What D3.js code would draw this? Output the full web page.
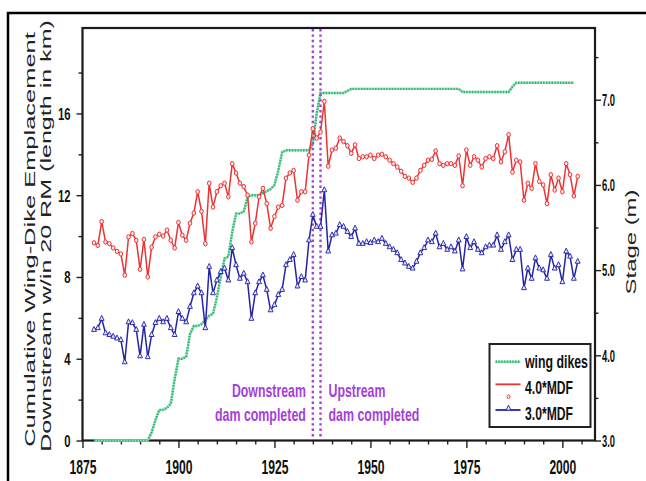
<!DOCTYPE html>
<html>
<head>
<meta charset="utf-8">
<script src="https://cdn.jsdelivr.net/npm/d3@7"></script>
<style>
  html, body { margin: 0; padding: 0; background: #fff; }
  svg { display: block; }
</style>
</head>
<body>
<script>
// ---- data -------------------------------------------------------------
const startYear = 1878;

// Stage (m) reached by a flow of 4.0 x mean daily flow, one value per year from 1878
const stage4MDF = [
  5.32, 5.29, 5.57, 5.33, 5.31, 5.26, 5.22, 5.19, 4.94, 5.39,
  5.43, 5.35, 5.01, 5.36, 4.92, 5.27, 5.39, 5.42, 5.40, 5.47,
  5.35, 5.26, 5.56, 5.41, 5.35, 5.55, 5.67, 5.92, 5.69, 5.31,
  6.02, 5.74, 5.92, 5.99, 6.02, 5.86, 6.25, 6.14, 6.02, 5.98,
  5.88, 5.33, 5.55, 5.86, 5.96, 5.78, 5.49, 5.63, 5.74, 5.76,
  6.08, 6.14, 6.17, 5.82, 5.92, 5.92, 6.35, 6.66, 6.55, 6.62,
  6.98, 6.22, 6.41, 6.43, 6.55, 6.51, 6.46, 6.37, 6.47, 6.31,
  6.33, 6.33, 6.35, 6.31, 6.35, 6.36, 6.33, 6.29, 6.25, 6.21,
  6.16, 6.10, 6.08, 6.03, 6.08, 6.17, 6.23, 6.29, 6.30, 6.40,
  6.25, 6.23, 6.25, 6.25, 6.23, 6.34, 5.99, 6.41, 6.23, 6.33,
  6.29, 6.21, 6.31, 6.33, 6.31, 6.46, 6.27, 6.39, 6.59, 6.15,
  6.29, 6.27, 5.82, 6.02, 5.96, 6.25, 6.04, 6.00, 5.78, 6.12,
  5.94, 6.08, 5.92, 6.25, 6.12, 5.87, 6.10
];

// Stage (m) reached by a flow of 3.0 x mean daily flow, one value per year from 1878
const stage3MDF = [
  4.30, 4.32, 4.43, 4.26, 4.24, 4.22, 4.20, 4.18, 3.92, 4.39,
  4.38, 4.30, 3.99, 4.36, 3.98, 4.24, 4.38, 4.43, 4.39, 4.43,
  4.32, 4.24, 4.51, 4.43, 4.39, 4.57, 4.73, 4.81, 4.73, 4.32,
  5.04, 4.73, 4.88, 4.98, 5.02, 4.88, 5.26, 5.06, 4.90, 4.96,
  4.86, 4.43, 4.73, 4.86, 4.94, 4.77, 4.53, 4.59, 4.71, 4.77,
  5.06, 5.12, 5.18, 4.81, 4.92, 4.88, 5.35, 5.65, 5.51, 5.51,
  5.94, 5.22, 5.41, 5.43, 5.53, 5.51, 5.45, 5.39, 5.49, 5.31,
  5.31, 5.33, 5.32, 5.35, 5.33, 5.37, 5.31, 5.27, 5.24, 5.20,
  5.12, 5.08, 5.04, 5.02, 5.10, 5.20, 5.26, 5.35, 5.33, 5.43,
  5.27, 5.31, 5.24, 5.27, 5.22, 5.35, 5.01, 5.39, 5.26, 5.33,
  5.24, 5.20, 5.27, 5.29, 5.29, 5.41, 5.24, 5.33, 5.41, 5.12,
  5.24, 5.24, 4.79, 5.02, 4.90, 5.14, 5.02, 5.00, 4.90, 5.18,
  5.02, 5.06, 4.86, 5.22, 5.16, 4.90, 5.10
];

// Cumulative wing-dike length (km) within 20 river miles downstream, per year from 1878
const wingDikeKm = [
  0, 0, 0, 0, 0, 0, 0, 0, 0, 0, 0, 0, 0, 0, 0,
  0.4, 1.0, 1.5, 1.5, 1.6, 1.8, 3.0, 4.0, 4.0, 4.1,
  5.2, 5.6, 5.6, 5.7, 5.9, 6.1, 6.2, 7.0, 8.0, 8.9,
  9.0, 10.2, 11.1, 11.1, 11.2, 11.9, 12.0, 12.0, 12.0, 12.1,
  12.2, 12.3, 12.5, 13.2, 14.1, 14.2, 14.2, 14.2, 14.2, 14.2,
  14.2, 14.2, 14.5, 16.0, 17.0, 17.0, 17.0, 17.0, 17.0, 17.0,
  17.0, 17.1,
  17.2, 17.2, 17.2, 17.2, 17.2, 17.2, 17.2, 17.2, 17.2, 17.2,
  17.2, 17.2, 17.2, 17.2, 17.2, 17.2, 17.2, 17.2, 17.2, 17.2,
  17.2, 17.2, 17.2, 17.2, 17.2, 17.2, 17.2, 17.2, 17.2,
  17.05, 17.05, 17.05, 17.05, 17.05, 17.05, 17.05, 17.05, 17.05, 17.05,
  17.05, 17.05, 17.05,
  17.3,
  17.5, 17.5, 17.5, 17.5, 17.5, 17.5, 17.5, 17.5, 17.5, 17.5,
  17.5, 17.5, 17.5, 17.5, 17.5, 17.5
];

const damYears = [1935, 1937];
const damLabelsLeft = ["Downstream", "dam completed"];
const damLabelsRight = ["Upstream", "dam completed"];

const yearTicks = [1875, 1900, 1925, 1950, 1975, 2000];
const kmTicks = [0, 4, 8, 12, 16];
const stageTicks = [3.0, 4.0, 5.0, 6.0, 7.0];
const legendLabels = ["wing dikes", "4.0*MDF", "3.0*MDF"];

// ---- layout -----------------------------------------------------------
const W = 646, H = 481;
const plot = { left: 82.5, right: 595, top: 28, bottom: 440.5 };
const squeeze = 0.58;              // narrow lettering of the rotated titles
const FONT = "'Liberation Sans', Arial, Helvetica, sans-serif";
const RED = "#ee3232", BLUE = "#2323a6", GREEN = "#34b874", PURPLE = "#a53fd8";

const svg = d3.select("body").append("svg")
  .attr("width", W).attr("height", H)
  .attr("font-family", FONT);

svg.append("rect").attr("width", W).attr("height", H).attr("fill", "#fff");

// outer frame (runs off the right and bottom edges)
svg.append("rect")
  .attr("x", 8).attr("y", 13).attr("width", 700).attr("height", 600)
  .attr("fill", "none").attr("stroke", "#000").attr("stroke-width", 2.5);

// condensed lettering: natural glyphs squeezed horizontally to a target width
function condense(sel, px, py, width) {
  sel.attr("x", 0).attr("y", 0).attr("dy", null);
  const natural = sel.node().getComputedTextLength();
  sel.attr("transform", `translate(${px},${py}) scale(${width / natural},1)`);
}

// ---- scales -----------------------------------------------------------
const x = d3.scaleLinear().domain([1875, 2008.5]).range([plot.left, plot.right]);
const yKm = d3.scaleLinear().domain([0, 20.18]).range([plot.bottom, plot.top]);
const yStage = d3.scaleLinear().domain([3, 7.842]).range([plot.bottom, plot.top]);

const stageYears = d3.range(startYear, startYear + stage4MDF.length);
const wingYears = d3.range(startYear, startYear + wingDikeKm.length);

// ---- axes -------------------------------------------------------------
function styleAxis(g) {
  g.select(".domain").remove();
  g.selectAll(".tick line").attr("stroke", "#222").attr("stroke-width", 1.4);
}

// bottom
svg.append("g")
  .attr("transform", `translate(0,${plot.bottom})`)
  .call(d3.axisBottom(x).tickValues(d3.range(1880, 2010, 5).filter(d => d % 25 !== 0))
    .tickSize(4).tickFormat(""))
  .call(styleAxis);
const xAxis = svg.append("g")
  .attr("transform", `translate(0,${plot.bottom})`)
  .call(d3.axisBottom(x).tickValues(yearTicks).tickSize(7.5).tickFormat(d3.format("d")))
  .call(styleAxis);
xAxis.selectAll(".tick text")
  .attr("font-size", 20).attr("font-weight", "bold").attr("fill", "#111")
  .attr("font-family", FONT).attr("text-anchor", "middle")
  .each(function () { condense(d3.select(this), 0, 33.5, 27); });

// left
svg.append("g")
  .attr("transform", `translate(${plot.left},0)`)
  .call(d3.axisLeft(yKm).tickValues([2, 6, 10, 14, 18]).tickSize(4).tickFormat(""))
  .call(styleAxis);
const yAxisL = svg.append("g")
  .attr("transform", `translate(${plot.left},0)`)
  .call(d3.axisLeft(yKm).tickValues(kmTicks).tickSize(6).tickFormat(d3.format("d")))
  .call(styleAxis);
yAxisL.selectAll(".tick text")
  .attr("font-size", 16).attr("font-weight", "bold").attr("fill", "#111")
  .attr("font-family", FONT).attr("text-anchor", "end")
  .each(function (d) { condense(d3.select(this), -12, 5.8, String(d).length * 6.3); });

// right
svg.append("g")
  .attr("transform", `translate(${plot.right},0)`)
  .call(d3.axisRight(yStage).tickValues([3.5, 4.5, 5.5, 6.5, 7.5]).tickSize(3.5).tickFormat(""))
  .call(styleAxis);
const yAxisR = svg.append("g")
  .attr("transform", `translate(${plot.right},0)`)
  .call(d3.axisRight(yStage).tickValues(stageTicks).tickSize(6).tickFormat(d3.format(".1f")))
  .call(styleAxis);
yAxisR.selectAll(".tick text")
  .attr("font-size", 16).attr("font-weight", "bold").attr("fill", "#111")
  .attr("font-family", FONT).attr("text-anchor", "start")
  .each(function () { condense(d3.select(this), 7, 5.8, 13); });

// ---- axis titles ------------------------------------------------------
function rotatedTitle(cx, cy, text, size, len) {
  const t = svg.append("text")
    .attr("text-anchor", "middle").attr("dominant-baseline", "central")
    .attr("font-size", size).attr("fill", "#222")
    .text(text);
  const natural = t.node().getComputedTextLength();
  t.attr("transform",
    `translate(${cx},${cy}) scale(${squeeze},1) rotate(-90) scale(${len / natural},1)`);
}
rotatedTitle(29.5, 239.5, "Cumulative Wing-Dike Emplacement", 25, 415);
rotatedTitle(45.5, 236, "Downstream w/in 20 RM (length in km)", 25, 432);
rotatedTitle(631, 242, "Stage (m)", 24, 105);

// ---- plot frame -------------------------------------------------------
svg.append("rect")
  .attr("x", plot.left).attr("y", plot.top)
  .attr("width", plot.right - plot.left).attr("height", plot.bottom - plot.top)
  .attr("fill", "none").attr("stroke", "#1a1a1a").attr("stroke-width", 2.2);

// ---- wing dikes -------------------------------------------------------
const wingLine = d3.line().x((d, i) => x(wingYears[i])).y(d => yKm(d));
svg.append("path").datum(wingDikeKm)
  .attr("d", wingLine).attr("fill", "none")
  .attr("stroke", "#9ee2bd").attr("stroke-width", 2.4);
svg.append("path").datum(wingDikeKm)
  .attr("d", wingLine).attr("fill", "none")
  .attr("stroke", GREEN).attr("stroke-width", 2.4)
  .attr("stroke-dasharray", "1.5,1.3");

// ---- dam completion markers ------------------------------------------
svg.selectAll(".dam").data(damYears).enter().append("line")
  .attr("x1", d => x(d)).attr("x2", d => x(d))
  .attr("y1", plot.top + 1).attr("y2", plot.bottom - 1)
  .attr("stroke", PURPLE).attr("stroke-width", 2.4)
  .attr("stroke-dasharray", "2.4,3");

// ---- stage series -----------------------------------------------------
const stageLine = d3.line().x((d, i) => x(stageYears[i])).y(d => yStage(d));

svg.append("path").datum(stage4MDF)
  .attr("d", stageLine).attr("fill", "none")
  .attr("stroke", RED).attr("stroke-width", 1.5);
svg.append("g").selectAll("ellipse").data(stage4MDF).enter().append("ellipse")
  .attr("cx", (d, i) => x(stageYears[i])).attr("cy", d => yStage(d))
  .attr("rx", 1.8).attr("ry", 2.2)
  .attr("fill", "#fde6e6").attr("stroke", RED).attr("stroke-width", 1);

svg.append("path").datum(stage3MDF)
  .attr("d", stageLine).attr("fill", "none")
  .attr("stroke", BLUE).attr("stroke-width", 1.5);
const tri = d3.symbol().type(d3.symbolTriangle).size(14);
svg.append("g").selectAll("path").data(stage3MDF).enter().append("path")
  .attr("d", tri)
  .attr("transform", (d, i) => `translate(${x(stageYears[i])},${yStage(d)}) scale(0.85,1)`)
  .attr("fill", "#e8e8ff").attr("stroke", BLUE).attr("stroke-width", 1);

// ---- dam labels -------------------------------------------------------
function damText(tx, ty, anchor, text, len) {
  const t = svg.append("text")
    .attr("text-anchor", anchor)
    .attr("font-size", 18).attr("font-weight", "bold").attr("fill", PURPLE)
    .text(text);
  condense(t, tx, ty, len);
}
damText(x(damYears[0]) - 7, 397, "end", damLabelsLeft[0], 74);
damText(x(damYears[0]) - 7, 421, "end", damLabelsLeft[1], 91);
damText(x(damYears[1]) + 8, 397, "start", damLabelsRight[0], 57);
damText(x(damYears[1]) + 8, 421, "start", damLabelsRight[1], 91);

// ---- legend -----------------------------------------------------------
const lg = svg.append("g").attr("transform", "translate(489.5,344)");
lg.append("rect").attr("width", 101).attr("height", 83)
  .attr("fill", "#fff").attr("stroke", "#222").attr("stroke-width", 2);

lg.append("line").attr("x1", 6).attr("x2", 31).attr("y1", 17.7).attr("y2", 17.7)
  .attr("stroke", "#9ee2bd").attr("stroke-width", 2.4);
lg.append("line").attr("x1", 6).attr("x2", 31).attr("y1", 17.7).attr("y2", 17.7)
  .attr("stroke", GREEN).attr("stroke-width", 2.4).attr("stroke-dasharray", "1.5,1.3");

lg.append("line").attr("x1", 6).attr("x2", 31).attr("y1", 40.3).attr("y2", 40.3)
  .attr("stroke", RED).attr("stroke-width", 1.8);
lg.append("ellipse").attr("cx", 19).attr("cy", 52.7).attr("rx", 1.5).attr("ry", 1.9)
  .attr("fill", "#fde6e6").attr("stroke", RED).attr("stroke-width", 0.9);

lg.append("line").attr("x1", 6).attr("x2", 31).attr("y1", 66).attr("y2", 66)
  .attr("stroke", BLUE).attr("stroke-width", 1.8);
lg.append("path").attr("d", tri)
  .attr("transform", "translate(19,64.5) scale(0.85,1)")
  .attr("fill", "#e8e8ff").attr("stroke", BLUE).attr("stroke-width", 1);

const legendY = [24, 50, 76];
const legendLen = [63, 48, 48];
legendLabels.forEach((t, i) => {
  const txt = lg.append("text")
    .attr("text-anchor", "start")
    .attr("font-size", 18).attr("font-weight", "bold").attr("fill", "#111")
    .text(t);
  condense(txt, 35.5, legendY[i], legendLen[i]);
});
</script>
</body>
</html>
